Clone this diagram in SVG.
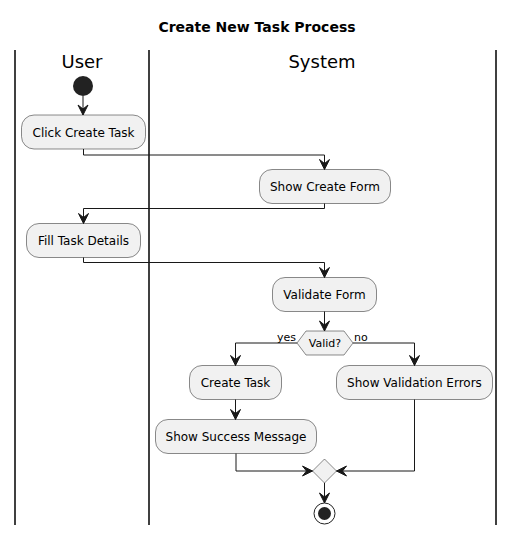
<svg xmlns="http://www.w3.org/2000/svg" width="515" height="536" viewBox="0 0 515 536">
<defs>
<style>
text{font-family:"DejaVu Sans",Verdana,sans-serif;fill:#000}
.title{font-size:14px;font-weight:bold}
.lane{font-size:18px}
.act rect{fill:#F1F1F1;stroke:#181818;stroke-width:0.5}
.act text{font-size:12px}
.dec polygon{fill:#F1F1F1;stroke:#181818;stroke-width:0.5}
.dec text{font-size:11px}
.lbl{font-size:11px}
.lanes line{stroke:#000;stroke-width:1.5}
.conn path{fill:none;stroke:#181818;stroke-width:1}
</style>
<marker id="ah" viewBox="0 0 12 12" refX="11" refY="6" markerWidth="12" markerHeight="12" markerUnits="userSpaceOnUse" orient="auto">
<polygon points="1,1 11,6 1,11 5,6" fill="#181818" stroke="#181818" stroke-width="1"/>
</marker>
</defs>
<rect width="515" height="536" fill="#fff"/>
<text class="title" x="257" y="32" text-anchor="middle">Create New Task Process</text>
<g id="lanes" class="lanes">
<line x1="15" y1="50" x2="15" y2="525"/>
<line x1="149" y1="50" x2="149" y2="525"/>
<line x1="496" y1="50" x2="496" y2="525"/>
<text class="lane" x="82" y="68" text-anchor="middle">User</text>
<text class="lane" x="322" y="68" text-anchor="middle">System</text>
</g>
<g id="start"><circle cx="83" cy="86" r="10" fill="#222"/></g>
<g id="clickCreate" class="act"><rect x="21.5" y="115" width="124" height="34" rx="12.5"/><text x="83.5" y="136.5" text-anchor="middle">Click Create Task</text></g>
<g id="showForm" class="act"><rect x="259.5" y="169.5" width="131" height="34" rx="12.5"/><text x="325" y="191" text-anchor="middle">Show Create Form</text></g>
<g id="fillDetails" class="act"><rect x="26.5" y="223.5" width="114" height="34" rx="12.5"/><text x="83.5" y="245" text-anchor="middle">Fill Task Details</text></g>
<g id="validateForm" class="act"><rect x="272.5" y="277.5" width="104" height="34" rx="12.5"/><text x="324.5" y="299" text-anchor="middle">Validate Form</text></g>
<g id="valid" class="dec"><polygon points="297,343 306,331 344,331 353,343 344,355 306,355"/><text x="325" y="347" text-anchor="middle">Valid?</text></g>
<g id="createTask" class="act"><rect x="189.5" y="365.5" width="92" height="34" rx="12.5"/><text x="235.5" y="387" text-anchor="middle">Create Task</text></g>
<g id="showSuccess" class="act"><rect x="155.5" y="419.5" width="161" height="34" rx="12.5"/><text x="236" y="441" text-anchor="middle">Show Success Message</text></g>
<g id="showErrors" class="act"><rect x="336.5" y="365.5" width="156" height="34" rx="12.5"/><text x="414.5" y="387" text-anchor="middle">Show Validation Errors</text></g>
<g id="merge" class="dec"><polygon points="324.5,459 336.5,471 324.5,483 312.5,471"/></g>
<g id="end"><circle cx="324.5" cy="513.5" r="10.5" fill="none" stroke="#222" stroke-width="1"/><circle cx="324.5" cy="513.5" r="6.5" fill="#222"/></g>
<g id="connectors" class="conn">
<path d="M83,96 V115" marker-end="url(#ah)"/>
<path d="M83.5,149 V155 H324.5 V169.5" marker-end="url(#ah)"/>
<path d="M324.5,203.5 V208.5 H83.5 V223.5" marker-end="url(#ah)"/>
<path d="M83.5,257.5 V262.5 H324.5 V277.5" marker-end="url(#ah)"/>
<path d="M324.5,311.5 V331" marker-end="url(#ah)"/>
<path d="M297,343 H235.5 V365.5" marker-end="url(#ah)"/>
<path d="M353,343 H414.5 V365.5" marker-end="url(#ah)"/>
<path d="M235.5,399.5 V419.5" marker-end="url(#ah)"/>
<path d="M236,453.5 V471 H312.5" marker-end="url(#ah)"/>
<path d="M414.5,399.5 V471 H336.5" marker-end="url(#ah)"/>
<path d="M324.5,483 V503" marker-end="url(#ah)"/>
<text class="lbl" x="277" y="341">yes</text>
<text class="lbl" x="354" y="341">no</text>
</g>
</svg>
